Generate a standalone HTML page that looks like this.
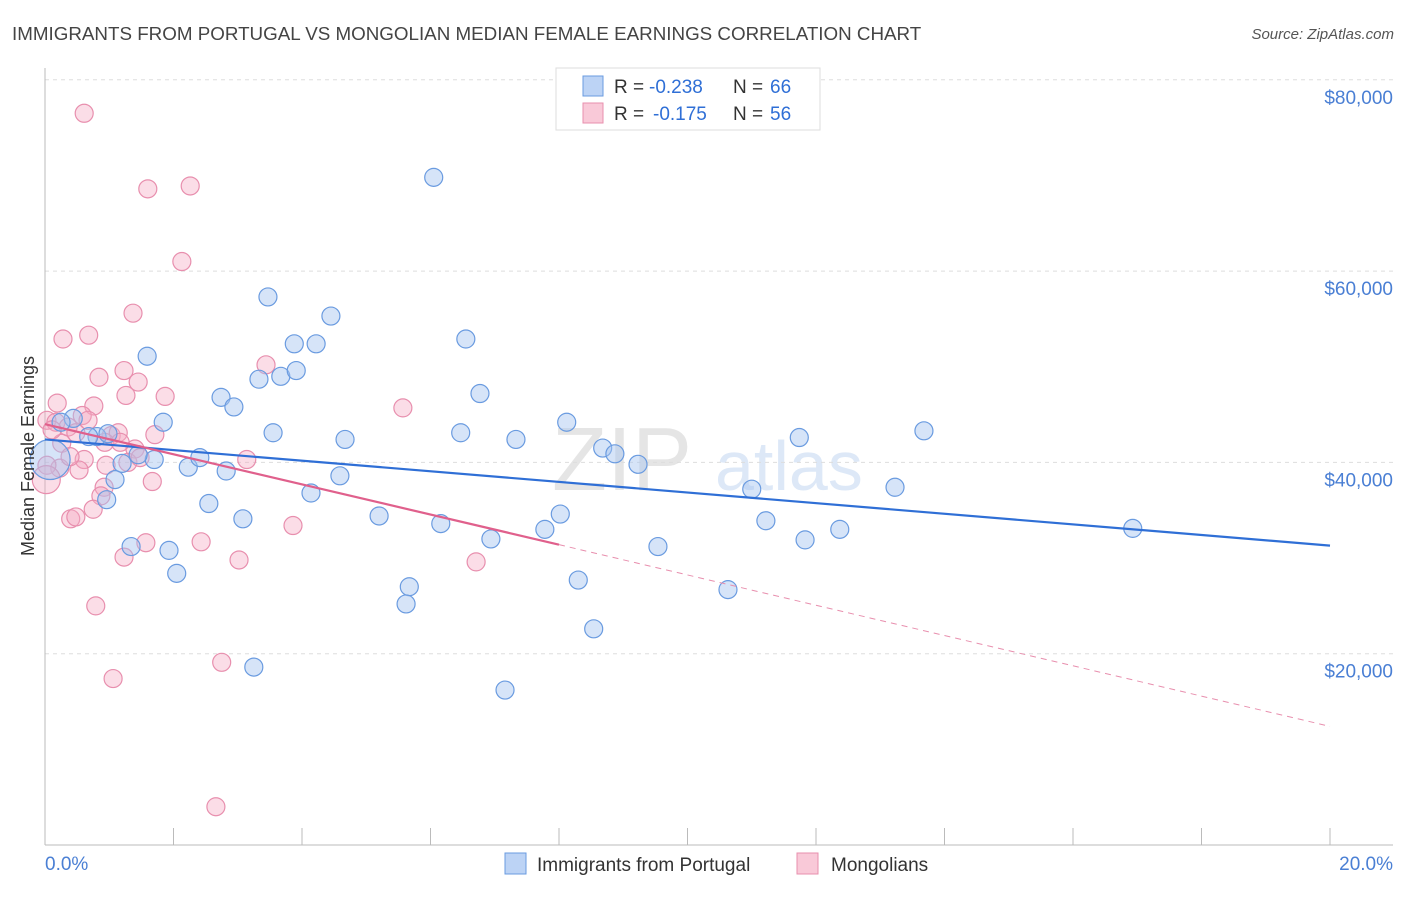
<!DOCTYPE html>
<html><head><meta charset="utf-8"><style>
body{margin:0;background:#fff;font-family:"Liberation Sans",sans-serif;}
svg text{font-family:"Liberation Sans",sans-serif;}
</style></head><body>
<svg id="chart" width="1406" height="892" viewBox="0 0 1406 892" xmlns="http://www.w3.org/2000/svg">
<text x="12" y="40" font-size="18.8" fill="#444">IMMIGRANTS FROM PORTUGAL VS MONGOLIAN MEDIAN FEMALE EARNINGS CORRELATION CHART</text>
<text x="1394" y="39" font-size="15" fill="#555" text-anchor="end" font-style="italic">Source: ZipAtlas.com</text>
<g opacity="0.25">
<text x="552" y="490" font-size="90" fill="#999" font-family="Liberation Serif">ZIP</text>
<text x="715" y="490" font-size="70" fill="#7aa7e0">atlas</text>
</g>
<g id="grid"></g>
<g id="axes"></g>
<g id="marks"></g>
<text transform="translate(34,456) rotate(-90)" font-size="18" fill="#333" text-anchor="middle">Median Female Earnings</text>
<text x="45" y="870" font-size="19" fill="#4a7fd4">0.0%</text>
<text x="1393" y="870" font-size="19" fill="#4a7fd4" text-anchor="end">20.0%</text>
<g>
<rect x="556" y="68" width="264" height="62" fill="#fff" stroke="#ddd"/>
<rect x="583" y="76" width="20" height="20" fill="#bcd3f5" stroke="#6a9be0"/>
<text x="614" y="93" font-size="19" fill="#333">R =</text>
<text x="649" y="93" font-size="19" fill="#2f6fd6">-0.238</text>
<text x="733" y="93" font-size="19" fill="#333">N =</text>
<text x="770" y="93" font-size="19" fill="#2f6fd6">66</text>
<rect x="583" y="103" width="20" height="20" fill="#f9c9d8" stroke="#e88fae"/>
<text x="614" y="120" font-size="19" fill="#333">R =</text>
<text x="653" y="120" font-size="19" fill="#2f6fd6">-0.175</text>
<text x="733" y="120" font-size="19" fill="#333">N =</text>
<text x="770" y="120" font-size="19" fill="#2f6fd6">56</text>
</g>
<g>
<rect x="505" y="853" width="21" height="21" fill="#bcd3f5" stroke="#6a9be0"/>
<text x="537" y="871" font-size="19" fill="#333">Immigrants from Portugal</text>
<rect x="797" y="853" width="21" height="21" fill="#f9c9d8" stroke="#e88fae"/>
<text x="831" y="871" font-size="19" fill="#333">Mongolians</text>
</g>
</svg>
<script>
const yTicks=[20000,40000,60000,80000];
const yTickLabels=["$20,000","$40,000","$60,000","$80,000"];
const xTicks=[1,2,3,4,5,6,7,8,9,10,11,12,13,14,15,16,17,18,19,20];
const blueX=[3.47,4.45,1.59,3.88,4.22,6.55,6.05,3.33,3.67,3.91,2.74,2.94,6.77,1.84,0.44,0.25,3.55,4.67,6.47,7.33,8.12,8.68,8.87,9.23,13.68,11.74,13.23,11.00,0.81,0.68,0.98,1.20,1.70,2.23,2.41,2.82,4.59,1.09,0.96,2.55,4.14,3.08,5.20,6.16,8.02,7.78,6.94,11.22,12.37,11.83,16.93,1.34,1.93,9.54,2.05,5.67,5.62,8.30,10.63,8.54,3.25,7.16,0.08,1.45];
const blueY=[57300,55300,51100,52400,52400,52900,69800,48700,49000,49600,46800,45800,47200,44200,44600,44200,43100,42400,43100,42400,44200,41500,40900,39800,43300,42600,37400,37200,42700,42700,43000,39900,40300,39500,40500,39100,38600,38200,36100,35700,36800,34100,34400,33600,34600,33000,32000,33900,33000,31900,33100,31200,30800,31200,28400,27000,25200,27700,26700,22600,18600,16200,40300,40800];
const blueR=[9,9,9,9,9,9,9,9,9,9,9,9,9,9,9,9,9,9,9,9,9,9,9,9,9,9,9,9,9,9,9,9,9,9,9,9,9,9,9,9,9,9,9,9,9,9,9,9,9,9,9,9,9,9,9,9,9,9,9,9,9,9,20,9];
const pinkX=[0.61,1.60,2.26,2.13,1.37,0.68,0.28,3.44,0.84,1.23,1.45,1.87,1.26,0.76,0.58,0.19,5.57,0.03,0.17,0.36,0.48,1.03,1.14,0.93,1.71,1.40,0.61,1.29,3.14,0.23,0.53,0.03,0.02,1.67,0.92,0.87,0.75,0.40,0.48,1.23,1.57,2.43,3.02,3.86,6.71,0.79,2.75,1.06,2.66,0.26,0.11,0.39,1.17,1.48,0.95,0.67];
const pinkY=[76500,68600,68900,61000,55600,53300,52900,50200,48900,49600,48400,46900,47000,45900,44900,46200,45700,44400,44200,43700,43100,42800,43100,42100,42900,41400,40300,40000,40300,39400,39200,39700,38200,38000,37400,36500,35100,34100,34300,30100,31600,31700,29800,33400,29600,25000,19100,17400,4000,42000,43400,40600,42100,40500,39700,44400];
const blueTrend=[[0,42400],[20,31300]];
const pinkTrendSolid=[[0,44000],[8,31400]];
const pinkTrendDashed=[[8,31400],[20,12400]];

const X0=45,X1=1330,Y0=845,YPER=191.3/20000;
const sx=v=>X0+(X1-X0)*v/20;
const sy=v=>Y0-v*YPER;
const NS="http://www.w3.org/2000/svg";
function mk(tag,attrs,parent){const e=document.createElementNS(NS,tag);for(const k in attrs)e.setAttribute(k,attrs[k]);parent.appendChild(e);return e;}
const grid=document.getElementById('grid'),axes=document.getElementById('axes'),marks=document.getElementById('marks');
yTicks.forEach((t,i)=>{
 const l=mk('line',{x1:X0,x2:1393,y1:sy(t),y2:sy(t),stroke:'#ddd','stroke-dasharray':'4,4'},grid);
 
 
 const tx=mk('text',{x:1393,y:sy(t)+24,'font-size':19,fill:'#4a7fd4','text-anchor':'end'},axes);
 tx.textContent=yTickLabels[i];
 
 
});
const la=mk('line',{x1:X0,x2:X0,y1:68,y2:Y0,stroke:'#bbb'},axes);


const lb=mk('line',{x1:X0,x2:1393,y1:Y0,y2:Y0,stroke:'#bbb'},axes);


xTicks.forEach(t=>{if(t%2)return;
 const l=mk('line',{x1:sx(t),x2:sx(t),y1:828,y2:Y0,stroke:'#bbb'},axes);
 
 
});
function dots(xs,ys,rs,fill,stroke,name){xs.forEach((x,i)=>{
 const c=mk('circle',{cx:sx(x),cy:sy(ys[i]),r:rs?rs[i]:9,fill:fill,stroke:stroke,'stroke-width':1.2},marks);
 
 
});}
dots(pinkX,pinkY,pinkX.map((x,i)=>i===32?14:9),'rgba(245,170,195,0.4)','#e88fae','mongolian-point');
dots(blueX,blueY,blueR,'rgba(164,196,240,0.45)','#6a9be0','portugal-point');
function line(p,stroke,w,dash,name){
 const l=mk('line',{x1:sx(p[0][0]),y1:sy(p[0][1]),x2:sx(p[1][0]),y2:sy(p[1][1]),stroke:stroke,'stroke-width':w},marks);
 if(dash)l.setAttribute('stroke-dasharray',dash);
 
 
}
line(blueTrend,'#2f6fd6',2.2,null,'portugal-trendline');
line(pinkTrendSolid,'#e0608c',2.2,null,'mongolian-trendline');
line(pinkTrendDashed,'#e88fae',1,'6,5','mongolian-trendline-extension');
</script>
</body></html>
